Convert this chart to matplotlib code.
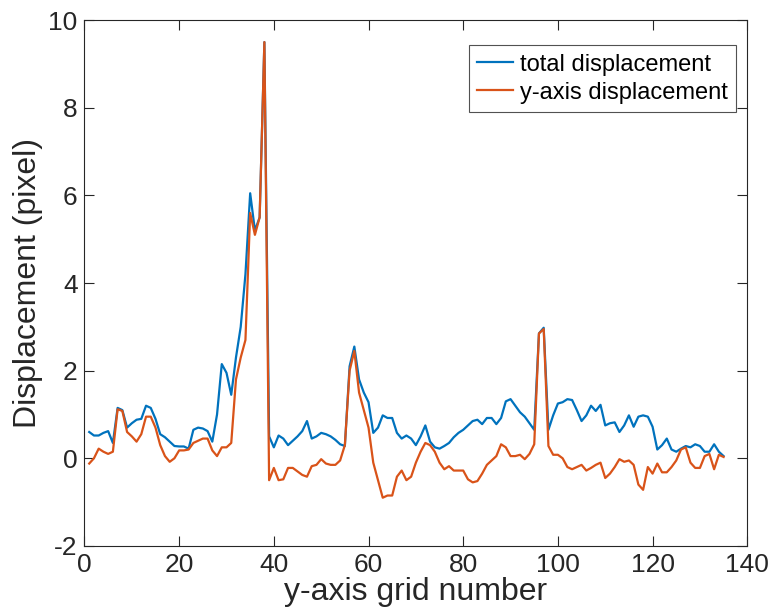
import matplotlib
matplotlib.use("Agg")
import matplotlib.pyplot as plt
import numpy as np

plt.rcParams['font.family'] = ['Liberation Sans', 'DejaVu Sans']
plt.rcParams['axes.unicode_minus'] = False

# grid index along the y-axis
grid_no = np.arange(1, 136)

total_disp = [
    0.60, 0.52, 0.52, 0.58, 0.62, 0.35, 1.15, 1.10, 0.70, 0.80,
    0.88, 0.90, 1.20, 1.15, 0.90, 0.55, 0.48, 0.38, 0.28, 0.27,
    0.27, 0.22, 0.65, 0.70, 0.68, 0.62, 0.38, 1.00, 2.15, 1.95,
    1.45, 2.30, 3.00, 4.20, 6.05, 5.20, 5.50, 9.50, 0.50, 0.25,
    0.52, 0.45, 0.30, 0.40, 0.50, 0.62, 0.85, 0.45, 0.50, 0.58,
    0.55, 0.50, 0.42, 0.32, 0.28, 2.10, 2.55, 1.80, 1.50, 1.28,
    0.58, 0.70, 0.98, 0.92, 0.92, 0.58, 0.45, 0.52, 0.45, 0.30,
    0.50, 0.75, 0.38, 0.25, 0.22, 0.28, 0.35, 0.48, 0.58, 0.65,
    0.75, 0.85, 0.88, 0.78, 0.92, 0.92, 0.78, 0.92, 1.30, 1.35,
    1.20, 1.05, 0.95, 0.80, 0.65, 2.85, 2.98, 0.65, 0.98, 1.25,
    1.28, 1.35, 1.33, 1.10, 0.85, 0.98, 1.20, 1.08, 1.22, 0.75,
    0.80, 0.82, 0.60, 0.75, 0.98, 0.72, 0.95, 0.98, 0.95, 0.72,
    0.20, 0.30, 0.45, 0.20, 0.15, 0.22, 0.28, 0.25, 0.32, 0.28,
    0.15, 0.15, 0.32, 0.15, 0.05,
]

y_disp = [
    -0.12, 0.00, 0.22, 0.15, 0.10, 0.15, 1.12, 1.08, 0.60, 0.50,
    0.38, 0.55, 0.95, 0.95, 0.70, 0.30, 0.05, -0.08, 0.00, 0.18,
    0.18, 0.20, 0.35, 0.40, 0.45, 0.45, 0.18, 0.05, 0.25, 0.25,
    0.35, 1.80, 2.30, 2.70, 5.60, 5.10, 5.50, 9.50, -0.50, -0.22,
    -0.50, -0.48, -0.22, -0.22, -0.30, -0.38, -0.42, -0.18, -0.15, -0.02,
    -0.12, -0.15, -0.15, -0.05, 0.30, 2.00, 2.45, 1.50, 1.10, 0.70,
    -0.10, -0.50, -0.90, -0.85, -0.85, -0.42, -0.28, -0.50, -0.42, -0.10,
    0.15, 0.35, 0.30, 0.15, -0.10, -0.25, -0.18, -0.28, -0.28, -0.28,
    -0.48, -0.55, -0.52, -0.35, -0.15, -0.05, 0.05, 0.32, 0.25, 0.05,
    0.05, 0.08, -0.02, 0.10, 0.32, 2.85, 2.95, 0.28, 0.08, 0.08,
    0.00, -0.20, -0.25, -0.20, -0.15, -0.28, -0.22, -0.15, -0.10, -0.45,
    -0.35, -0.20, -0.02, -0.08, -0.05, -0.15, -0.60, -0.72, -0.20, -0.35,
    -0.12, -0.32, -0.32, -0.20, -0.05, 0.20, 0.25, -0.10, -0.22, -0.22,
    0.05, 0.10, -0.25, 0.08, 0.03,
]

fig = plt.figure(figsize=(7.68, 6.12), dpi=100)
ax = fig.add_axes([0.110, 0.108, 0.863, 0.859])

ax.plot(grid_no, total_disp, color='#0072BD', lw=1.6, label='total displacement')
ax.plot(grid_no, y_disp, color='#D95319', lw=1.6, label='y-axis displacement')

ax.set_xlim(0, 140)
ax.set_ylim(-2, 10)
ax.set_xticks(range(0, 141, 20))
ax.set_yticks(range(-2, 11, 2))

axis_col = '#262626'
for s in ax.spines.values():
    s.set_color(axis_col)
    s.set_linewidth(0.8)
ax.tick_params(direction='in', top=True, right=True, length=7,
               labelsize=19, colors=axis_col, pad=5)

ax.set_xlabel('y-axis grid number', fontsize=23, color=axis_col, labelpad=0)
ax.set_ylabel('Displacement (pixel)', fontsize=23, color=axis_col, labelpad=4)

leg = ax.legend(loc='upper right', fontsize=17, frameon=True, fancybox=False,
                edgecolor=axis_col, handlelength=1.5, handletextpad=0.3,
                borderpad=0.35, labelspacing=0.25, borderaxespad=0,
                bbox_to_anchor=(0.983, 0.952))
leg.get_frame().set_linewidth(0.8)

fig.savefig('out.png', dpi=100)
